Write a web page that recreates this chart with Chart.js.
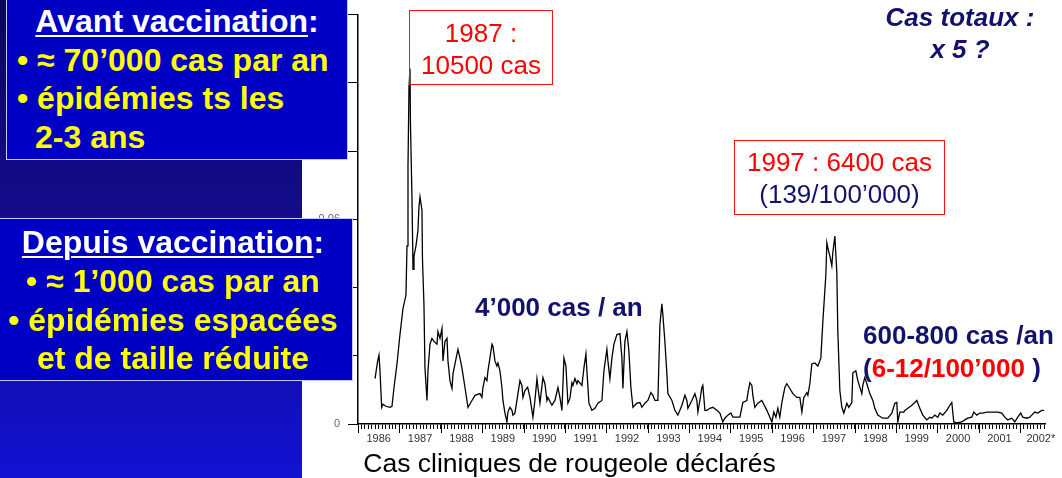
<!DOCTYPE html>
<html>
<head>
<meta charset="utf-8">
<script src="https://cdn.jsdelivr.net/npm/chart.js@4.4.1/dist/chart.umd.min.js"></script>
<style>
  body { margin: 0; width: 1062px; height: 478px; overflow: hidden; background: #fff; position: relative;
         font-family: "Liberation Sans", Arial, sans-serif; }
  #chart { position: absolute; left: 0; top: 0; }
  .panel { position: absolute; left: 0; top: 0; width: 302px; height: 478px;
           background: linear-gradient(#08085c 0%, #140c8c 45%, #1212d2 100%); }
  .box { position: absolute; box-sizing: border-box; background: #0000c4; border: 1px solid #c8c8ff; }
  .ln { position: absolute; white-space: nowrap; font-size: 32px; line-height: 32px; font-weight: bold; color: #ffff00; }
  .ln.head { color: #fff; }
  .ln.head u { text-decoration-thickness: 2px; text-underline-offset: 3px; }
  .note { position: absolute; white-space: nowrap; font-size: 26px; line-height: 26px; }
  .navy { color: #12126e; }
  .red { color: #ff0000; }
  .bold { font-weight: bold; }
  .redbox { position: absolute; box-sizing: border-box; border: 1px solid #ff1010; }
</style>
</head>
<body>
<canvas id="chart" width="1062" height="478"></canvas>

<div class="panel"></div>

<div class="box" style="left:6px;top:-3px;width:342px;height:163px;"></div>
<div class="ln head" style="left:6px;width:342px;text-align:center;top:5px;"><u>Avant vaccination</u>:</div>
<div class="ln" style="left:17px;top:44px;">• ≈ 70’000 cas par an</div>
<div class="ln" style="left:17px;top:82px;">• épidémies ts les</div>
<div class="ln" style="left:35px;top:121px;">2-3 ans</div>

<div class="box" style="left:-2px;top:218px;width:355px;height:163px;"></div>
<div class="ln head" style="left:0;width:346px;text-align:center;top:226px;"><u>Depuis vaccination</u>:</div>
<div class="ln" style="left:0;width:346px;text-align:center;top:265px;">• ≈ 1’000 cas par an</div>
<div class="ln" style="left:0;width:346px;text-align:center;top:304px;">• épidémies espacées</div>
<div class="ln" style="left:0;width:346px;text-align:center;top:342px;">et de taille réduite</div>

<div class="redbox" style="left:409px;top:10px;width:144px;height:75px;"></div>
<div class="note red" style="left:409px;width:144px;text-align:center;top:20px;">1987 :</div>
<div class="note red" style="left:409px;width:144px;text-align:center;top:52px;">10500 cas</div>

<div class="redbox" style="left:734px;top:140px;width:211px;height:75px;"></div>
<div class="note red" style="left:734px;width:211px;text-align:center;top:149px;">1997 : 6400 cas</div>
<div class="note navy" style="left:734px;width:211px;text-align:center;top:181px;">(139/100’000)</div>

<div class="note navy bold" style="left:475px;top:294px;">4’000 cas / an</div>

<div class="note navy bold" style="left:860px;width:200px;text-align:center;top:4px;font-style:italic;">Cas totaux :</div>
<div class="note navy bold" style="left:860px;width:200px;text-align:center;top:36px;font-style:italic;">x 5 ?</div>

<div class="note navy bold" style="left:863px;top:322px;">600-800 cas /an</div>
<div class="note navy bold" style="left:863px;top:355px;">(<span class="red">6-12/100’000</span> )</div>

<script>
// x position of each report, in decimal years
const years = [
    1986.411, 1986.476, 1986.507, 1986.531, 1986.572, 1986.604, 1986.676, 1986.773, 1986.821, 1986.870,
    1986.942, 1987.014, 1987.087, 1987.159, 1987.184, 1987.208, 1987.232, 1987.256, 1987.268, 1987.304,
    1987.329, 1987.353, 1987.401, 1987.449, 1987.473, 1987.498, 1987.546, 1987.558, 1987.594, 1987.618,
    1987.667, 1987.691, 1987.739, 1987.787, 1987.836, 1987.908, 1987.932, 1987.981, 1988.029, 1988.053,
    1988.101, 1988.150, 1988.174, 1988.222, 1988.271, 1988.295, 1988.391, 1988.415, 1988.464, 1988.512,
    1988.585, 1988.657, 1988.754, 1988.826, 1988.947, 1988.995, 1989.019, 1989.068, 1989.116, 1989.140,
    1989.188, 1989.237, 1989.261, 1989.309, 1989.357, 1989.382, 1989.430, 1989.478, 1989.502, 1989.551,
    1989.599, 1989.623, 1989.671, 1989.720, 1989.744, 1989.792, 1989.865, 1989.913, 1989.961, 1989.986,
    1990.034, 1990.099, 1990.155, 1990.227, 1990.275, 1990.324, 1990.348, 1990.396, 1990.469, 1990.517,
    1990.565, 1990.589, 1990.686, 1990.758, 1990.831, 1990.879, 1990.928, 1990.976, 1991.024, 1991.072,
    1991.121, 1991.169, 1991.193, 1991.242, 1991.290, 1991.314, 1991.411, 1991.459, 1991.507, 1991.531,
    1991.580, 1991.652, 1991.725, 1991.797, 1991.894, 1991.942, 1992.014, 1992.039, 1992.087, 1992.135,
    1992.184, 1992.256, 1992.329, 1992.377, 1992.401, 1992.449, 1992.498, 1992.546, 1992.594, 1992.643,
    1992.739, 1992.812, 1992.860, 1992.932, 1993.005, 1993.077, 1993.126, 1993.174, 1993.246, 1993.295,
    1993.343, 1993.367, 1993.415, 1993.464, 1993.488, 1993.585, 1993.657, 1993.729, 1993.826, 1993.899,
    1993.947, 1993.971, 1994.068, 1994.140, 1994.188, 1994.213, 1994.261, 1994.309, 1994.333, 1994.382,
    1994.430, 1994.502, 1994.575, 1994.671, 1994.744, 1994.816, 1994.865, 1994.937, 1995.010, 1995.058,
    1995.155, 1995.227, 1995.300, 1995.396, 1995.420, 1995.469, 1995.517, 1995.541, 1995.589, 1995.662,
    1995.758, 1995.783, 1995.879, 1995.952, 1996.000, 1996.048, 1996.097, 1996.145, 1996.193, 1996.242,
    1996.314, 1996.362, 1996.435, 1996.507, 1996.604, 1996.676, 1996.725, 1996.773, 1996.845, 1996.870,
    1996.918, 1996.966, 1997.039, 1997.111, 1997.184, 1997.232, 1997.304, 1997.329, 1997.353, 1997.401,
    1997.449, 1997.473, 1997.522, 1997.570, 1997.594, 1997.643, 1997.691, 1997.739, 1997.812, 1997.860,
    1997.932, 1997.957, 1998.029, 1998.077, 1998.174, 1998.198, 1998.246, 1998.295, 1998.367, 1998.440,
    1998.488, 1998.560, 1998.681, 1998.802, 1998.899, 1998.971, 1999.019, 1999.043, 1999.092, 1999.188,
    1999.213, 1999.285, 1999.382, 1999.454, 1999.502, 1999.575, 1999.647, 1999.744, 1999.816, 1999.865,
    1999.937, 2000.010, 2000.058, 2000.130, 2000.227, 2000.300, 2000.348, 2000.396, 2000.469, 2000.589,
    2000.662, 2000.734, 2000.831, 2000.879, 2000.952, 2001.024, 2001.097, 2001.193, 2001.314, 2001.386,
    2001.459, 2001.556, 2001.628, 2001.700, 2001.797, 2001.870, 2001.942, 2002.014, 2002.063, 2002.159,
    2002.232, 2002.280, 2002.353, 2002.425, 2002.522, 2002.580
];

// reported incidence, same order as years
const incidence = [
    0.0133, 0.0185, 0.0202, 0.0156, 0.0049, 0.0058, 0.0052, 0.0049, 0.0052, 0.0107,
    0.0176, 0.0262, 0.0338, 0.0378, 0.0522, 0.0753, 0.0987, 0.1041, 0.0877, 0.0666,
    0.0453, 0.0493, 0.0522, 0.0568, 0.0637, 0.0666, 0.0626, 0.0482, 0.0349, 0.0164,
    0.0069, 0.0156, 0.0234, 0.0251, 0.0242, 0.0234, 0.0271, 0.0251, 0.0280, 0.0185,
    0.0242, 0.0251, 0.0185, 0.0127, 0.0104, 0.0147, 0.0205, 0.0219, 0.0193, 0.0164,
    0.0107, 0.0049, 0.0069, 0.0084, 0.0089, 0.0078, 0.0107, 0.0136, 0.0127, 0.0156,
    0.0193, 0.0234, 0.0228, 0.0185, 0.0170, 0.0179, 0.0156, 0.0107, 0.0069, 0.0032,
    0.0006, 0.0035, 0.0049, 0.0040, 0.0026, 0.0032, 0.0089, 0.0127, 0.0113, 0.0078,
    0.0098, 0.0108, 0.0078, 0.0020, 0.0069, 0.0133, 0.0107, 0.0061, 0.0136, 0.0118,
    0.0069, 0.0078, 0.0055, 0.0069, 0.0107, 0.0078, 0.0040, 0.0193, 0.0170, 0.0061,
    0.0075, 0.0121, 0.0113, 0.0133, 0.0118, 0.0127, 0.0113, 0.0164, 0.0205, 0.0156,
    0.0061, 0.0040, 0.0046, 0.0061, 0.0069, 0.0156, 0.0219, 0.0185, 0.0133, 0.0193,
    0.0234, 0.0262, 0.0265, 0.0193, 0.0104, 0.0242, 0.0271, 0.0213, 0.0107, 0.0049,
    0.0061, 0.0063, 0.0049, 0.0061, 0.0069, 0.0092, 0.0084, 0.0069, 0.0069, 0.0291,
    0.0352, 0.0320, 0.0242, 0.0147, 0.0089, 0.0069, 0.0040, 0.0026, 0.0055, 0.0084,
    0.0069, 0.0046, 0.0069, 0.0089, 0.0069, 0.0035, 0.0069, 0.0107, 0.0113, 0.0040,
    0.0040, 0.0046, 0.0049, 0.0040, 0.0032, 0.0006, 0.0017, 0.0026, 0.0032, 0.0020,
    0.0020, 0.0020, 0.0063, 0.0069, 0.0089, 0.0121, 0.0113, 0.0084, 0.0049, 0.0061,
    0.0069, 0.0063, 0.0040, 0.0020, 0.0006, 0.0035, 0.0020, 0.0046, 0.0020, 0.0063,
    0.0107, 0.0118, 0.0104, 0.0089, 0.0078, 0.0078, 0.0035, 0.0078, 0.0092, 0.0084,
    0.0118, 0.0176, 0.0179, 0.0170, 0.0193, 0.0300, 0.0436, 0.0531, 0.0516, 0.0493,
    0.0464, 0.0502, 0.0551, 0.0444, 0.0271, 0.0098, 0.0049, 0.0032, 0.0061, 0.0049,
    0.0063, 0.0150, 0.0156, 0.0127, 0.0089, 0.0113, 0.0136, 0.0118, 0.0089, 0.0069,
    0.0046, 0.0026, 0.0017, 0.0017, 0.0032, 0.0061, 0.0063, 0.0006, 0.0035, 0.0035,
    0.0040, 0.0046, 0.0055, 0.0063, 0.0069, 0.0046, 0.0026, 0.0012, 0.0020, 0.0017,
    0.0026, 0.0020, 0.0032, 0.0026, 0.0040, 0.0055, 0.0063, 0.0006, 0.0003, 0.0006,
    0.0012, 0.0017, 0.0020, 0.0035, 0.0026, 0.0032, 0.0032, 0.0035, 0.0035, 0.0035,
    0.0035, 0.0032, 0.0020, 0.0012, 0.0017, 0.0006, 0.0020, 0.0032, 0.0020, 0.0017,
    0.0020, 0.0026, 0.0035, 0.0032, 0.0040, 0.0040
];

const yearLabels = ['1986', '1987', '1988', '1989', '1990', '1991', '1992', '1993', '1994',
    '1995', '1996', '1997', '1998', '1999', '2000', '2001', '2002*'];

const firstYear = 1986;
const lastYear = 2002.6;

// longer tick mark at the start of each year
const yearTicks = {
    id: 'yearTicks',
    afterDraw(chart) {
        const xs = chart.scales.x;
        const ctx = chart.ctx;
        ctx.save();
        ctx.strokeStyle = '#000';
        ctx.lineWidth = 1;
        for (let i = 0; i < yearLabels.length; i++) {
            const px = Math.round(xs.getPixelForValue(firstYear + i)) + 0.5;
            ctx.beginPath();
            ctx.moveTo(px, xs.top);
            ctx.lineTo(px, xs.top + 9);
            ctx.stroke();
        }
        ctx.restore();
    }
};

new Chart(document.getElementById('chart'), {
    type: 'line',
    data: {
        datasets: [{
            data: years.map((x, i) => ({x, y: incidence[i]})),
            borderColor: '#000',
            borderWidth: 1.3,
            pointRadius: 0,
            tension: 0
        }]
    },
    options: {
        responsive: false,
        animation: false,
        layout: {padding: {top: 8, right: 17, left: 0, bottom: 0}},
        plugins: {legend: {display: false}, tooltip: {enabled: false}},
        scales: {
            x: {
                type: 'linear',
                min: firstYear,
                max: lastYear,
                afterBuildTicks: s => {
                    // one small tick per month
                    const t = [];
                    for (let k = 0; firstYear + k / 12 <= lastYear; k++) t.push({value: firstYear + k / 12});
                    s.ticks = t;
                },
                afterFit: s => { s.height = 54; },
                grid: {drawOnChartArea: false, tickLength: 5, color: '#000'},
                border: {color: '#000', width: 1.5},
                ticks: {
                    autoSkip: false,
                    maxRotation: 0,
                    padding: 3,
                    color: '#333',
                    font: {size: 11, family: 'Liberation Sans'},
                    callback: (v, i) => i % 12 === 6 ? yearLabels[Math.floor(i / 12)] : ''
                },
                title: {
                    display: true,
                    align: 'start',
                    text: '\u2009Cas cliniques de rougeole déclarés',
                    color: '#000',
                    font: {size: 26.5, family: 'Liberation Sans', lineHeight: 1},
                    padding: {top: 0, bottom: 0}
                }
            },
            y: {
                min: 0,
                max: 0.12,
                afterFit: s => { s.width = 358; },
                grid: {drawOnChartArea: false, tickLength: 10, color: '#000'},
                border: {color: '#000', width: 1.5},
                ticks: {stepSize: 0.02, padding: 8, color: '#666', font: {size: 11, family: 'Liberation Sans'}}
            }
        }
    },
    plugins: [yearTicks]
});
</script>
</body>
</html>
